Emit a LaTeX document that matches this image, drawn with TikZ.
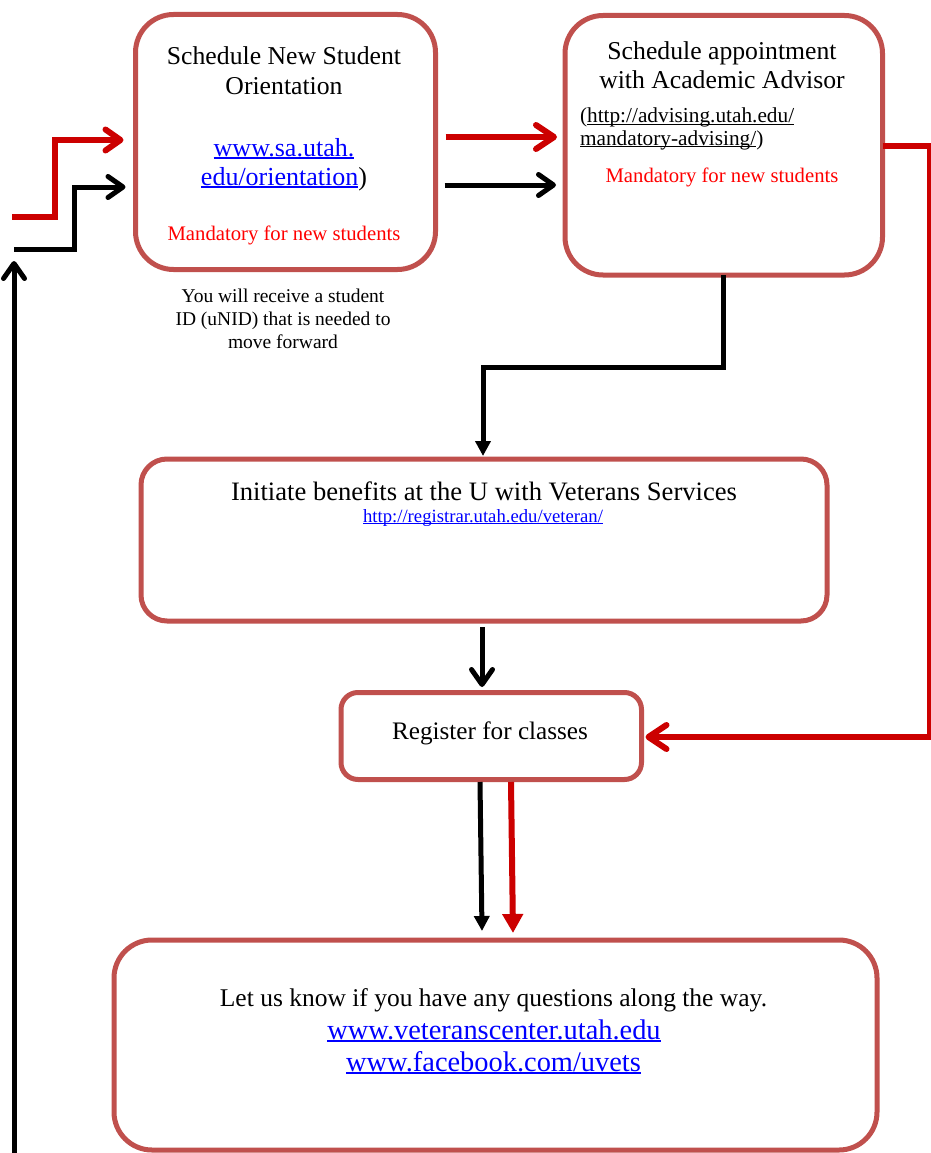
\documentclass[tikz,border=0pt]{standalone}
\usepackage{fontspec}
\setmainfont{Liberation Serif}
\usetikzlibrary{arrows.meta}
\definecolor{boxred}{RGB}{192,80,77}
\definecolor{arrred}{RGB}{204,0,0}
\definecolor{txtred}{RGB}{255,0,0}
\definecolor{linkblue}{RGB}{0,0,255}
\newcommand\fsz[2]{\fontsize{#1pt}{#2pt}\selectfont}
\newcommand\myul[1]{{\setbox0\hbox{#1}\rlap{\rule[-0.11em]{\wd0}{0.06em}}\box0}}
\begin{document}
\begin{tikzpicture}[x=1pt,y=-1pt,
  box/.style={draw=boxred,line width=5pt,inner sep=0pt,outer sep=0pt,fill=white},
  txt/.style={inner sep=0pt,outer sep=0pt,anchor=base},
  ttl/.style={txt,font=\fsz{25.7}{30}},
  lnk/.style={txt,font=\fsz{26}{29}},
  mand/.style={txt,font=\fsz{20.7}{24},text=txtred},
  note/.style={txt,font=\fsz{19.5}{23.5}},
  redln/.style={draw=arrred,line width=6pt},
  blkln/.style={draw=black,line width=5pt},
  chev/.style={-{Straight Barb[length=15pt,width=21pt,line cap=round,line join=round]}},
  bigchev/.style={-{Straight Barb[length=18pt,width=24pt,line cap=round,line join=round]}},
  tri/.style={-{Triangle[length=15pt,width=15pt]}},
  bigtri/.style={-{Triangle[length=19pt,width=20pt]}}
]
\useasboundingbox (0,0) rectangle (930,1153);
\fill[white] (0,0) rectangle (930,1153);

% boxes
\node[box,rounded corners=38pt,minimum width=300pt,minimum height=255pt] (b1) at (285.5,142) {};
\node[box,rounded corners=38pt,minimum width=317.5pt,minimum height=259.5pt] (b2) at (723.75,145.25) {};
\node[box,rounded corners=26pt,minimum width=686pt,minimum height=162pt] (b3) at (484,540) {};
\node[box,rounded corners=17pt,minimum width=300.5pt,minimum height=87pt] (b4) at (491.25,736) {};
\node[box,rounded corners=38pt,minimum width=763pt,minimum height=210pt] (b5) at (495.5,1045) {};

% box 1 text
\node[ttl] (t1a) at (284,65) {Schedule New Student};
\node[ttl] (t1b) at (284,95) {Orientation};
\node[lnk] (l1a) at (284,156) {\textcolor{linkblue}{\myul{www.sa.utah.}}};
\node[lnk] (l1b) at (284,185) {\textcolor{linkblue}{\myul{edu/orientation}})};
\node[mand] (m1) at (284,240) {Mandatory for new students};
\node[note] (n1) at (283,302) {You will receive a student};
\node[note] (n2) at (283,325) {ID (uNID) that is needed to};
\node[note] (n3) at (283,348) {move forward};

% box 2 text
\node[ttl] (t2a) at (722,60) {Schedule appointment};
\node[ttl] (t2b) at (722,89) {with Academic Advisor};
\node[txt,anchor=base west,font=\fsz{21.3}{24}] (l2a) at (580,123) {(\myul{http://advising.utah.edu/}};
\node[txt,anchor=base west,font=\fsz{21.3}{24}] (l2b) at (580,145) {\myul{mandatory-advising/})};
\node[mand] (m2) at (722,182) {Mandatory for new students};

% box 3 text
\node[txt,font=\fsz{26.6}{30}] (t3) at (484,500) {Initiate benefits at the U with Veterans Services};
\node[txt,font=\fsz{18.7}{20},text=linkblue] (l3) at (483,522) {\myul{http://registrar.utah.edu/veteran/}};

% box 4 text
\node[txt,font=\fsz{25.2}{30}] (t4) at (490,739) {Register for classes};

% box 5 text
\node[txt,font=\fsz{25.5}{32}] (t5) at (493.5,1006) {Let us know if you have any questions along the way.};
\node[txt,font=\fsz{28.4}{32},text=linkblue] (l5a) at (494,1039) {\myul{www.veteranscenter.utah.edu}};
\node[txt,font=\fsz{28.4}{32},text=linkblue] (l5b) at (493.5,1071) {\myul{www.facebook.com/uvets}};

% coordinates for free ends
\coordinate (rs) at (12,217);
\coordinate (bs) at (14,249);
\coordinate (bl) at (14,1156);

% connectors
\draw[redln,chev] (rs) -- (55,217) -- (55,140) -- ([xshift=-12pt]b1.west |- 0,140);
\draw[blkln,chev] (bs) -- (74,249) -- (74,187) -- ([xshift=-10pt]b1.west |- 0,187);
\draw[blkln,chev] (bl) -- (bs |- 0,261);
\draw[redln,bigchev] ([xshift=10pt]b1.east |- 0,137) -- ([xshift=-8pt]b2.west |- 0,137);
\draw[blkln,chev] ([xshift=9pt]b1.east |- 0,185) -- ([xshift=-9pt]b2.west |- 0,185);
\draw[redln,bigchev] (b2.east |- 0,146) -- (930,146) -- (930,737) -- ([xshift=4pt]b4.east |- 0,737);
\draw[blkln,tri] (723,275) -- (723,367) -- (483,367) -- (483,456);
\draw[blkln,chev] ([yshift=-6pt]b3.south -| 482,0) -- ([yshift=5.5pt]b4.north -| 482,0);
\draw[blkln,tri] (480,782) -- (482,931);
\draw[redln,bigtri] (511,782) -- (513,933);
\end{tikzpicture}
\end{document}
